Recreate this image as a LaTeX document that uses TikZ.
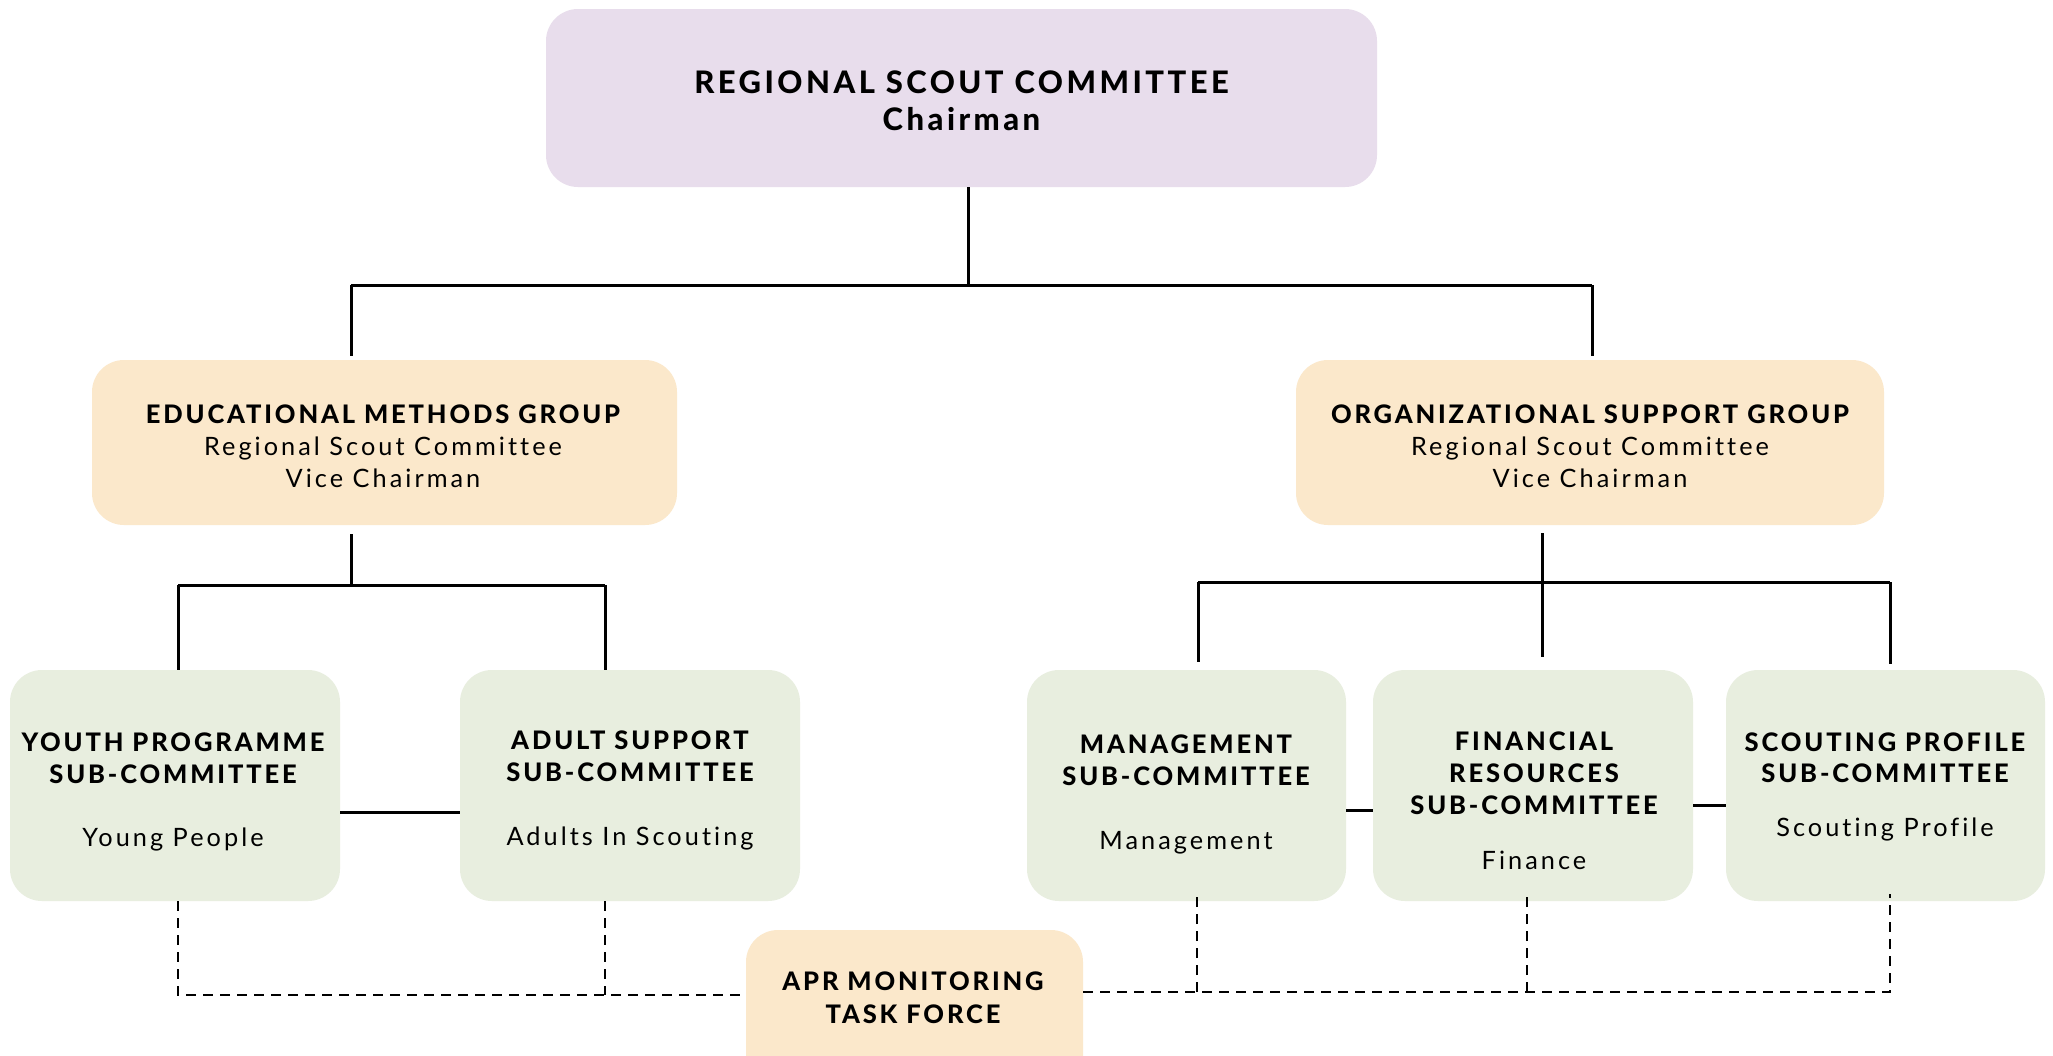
\documentclass[tikz,border=0pt]{standalone}
\usepackage{fontspec}
\setmainfont{Lato}
\newfontfamily\headfont[LetterSpace=11.2, Ligatures=NoCommon, BoldFont={Lato Heavy}]{Lato}
\newfontfamily\bodyfont[LetterSpace=12, Ligatures=NoCommon]{Lato}
\definecolor{lilacfill}{RGB}{232,221,236}
\definecolor{peachfill}{RGB}{251,232,203}
\definecolor{sagefill}{RGB}{232,238,223}
\tikzset{
  rbox/.style={draw=none, rectangle, rounded corners=32pt, inner sep=0pt},
  lilacbox/.style={rbox, fill=lilacfill},
  peachbox/.style={rbox, fill=peachfill},
  sagebox/.style={rbox, fill=sagefill},
  titletext/.style={anchor=base, inner sep=0pt, font=\headfont\bfseries\fontsize{31}{36}\selectfont},
  headtext/.style={anchor=base, inner sep=0pt, font=\headfont\bfseries\fontsize{25.5}{30}\selectfont},
  bodytext/.style={anchor=base, inner sep=0pt, font=\bodyfont\fontsize{25.3}{30}\selectfont},
  link/.style={line width=3pt},
  dlink/.style={line width=2.6pt, dash pattern=on 10pt off 7pt},
}
\begin{document}
\begin{tikzpicture}[x=1pt, y=-1pt]
\useasboundingbox (0,0) rectangle (2053,1055);
\clip (0,0) rectangle (2053,1055);
\fill[white] (0,0) rectangle (2053,1055);

% boxes
\node[lilacbox, minimum width=831pt, minimum height=178pt] (top) at (961.5,98) {};
\node[peachbox, minimum width=585pt, minimum height=165pt] (emg) at (384.5,442.5) {};
\node[peachbox, minimum width=588pt, minimum height=165pt] (osg) at (1590,442.5) {};
\node[sagebox, minimum width=330pt, minimum height=231pt] (youth) at (175,785.5) {};
\node[sagebox, minimum width=340pt, minimum height=231pt] (adult) at (630,785.5) {};
\node[sagebox, minimum width=319pt, minimum height=231pt] (mgmt) at (1186.5,785.5) {};
\node[sagebox, minimum width=320pt, minimum height=231pt] (fin) at (1533,785.5) {};
\node[sagebox, minimum width=319pt, minimum height=231pt] (scout) at (1885.5,785.5) {};
\node[peachbox, minimum width=337pt, minimum height=160pt] (apr) at (914.5,1010) {};

% chairman to the two groups
\coordinate (busTop) at (968,285);
\coordinate (busTopL) at (351,285);
\coordinate (busTopR) at (1592,285);
\draw[link] (top.south -| busTop) -- (busTop);
\draw[link] (busTopL) -- (busTopR);
\draw[link] (busTopL) -- ([yshift=4pt]busTopL |- emg.north);
\draw[link] (busTopR) -- ([yshift=4pt]busTopR |- osg.north);

% educational methods group to its sub-committees
\coordinate (emgDrop) at (351,534);
\coordinate (busL) at (178,585);
\coordinate (busR) at (605,585);
\draw[link] (emgDrop) -- (emgDrop |- busL);
\draw[link] (busL) -- (busR);
\draw[link] (busL) -- (busL |- youth.north);
\draw[link] (busR) -- (busR |- adult.north);
\draw[link] (youth.east |- 0,812) -- (adult.west |- 0,812);

% organizational support group to its sub-committees
\coordinate (osgDrop) at (1542,533);
\coordinate (busML) at (1198,582);
\coordinate (busMR) at (1890,582);
\draw[link] (osgDrop) -- ([yshift=13pt]osgDrop |- fin.north);
\draw[link] (busML) -- (busMR);
\draw[link] (busML) -- ([yshift=8pt]busML |- mgmt.north);
\draw[link] (busMR) -- ([yshift=6pt]busMR |- scout.north);
\draw[link] (mgmt.east |- 0,810) -- (fin.west |- 0,810);
\draw[link] (fin.east |- 0,805) -- (scout.west |- 0,805);

% monitoring links
\coordinate (dYouth) at (178,995);
\coordinate (dAdult) at (605,995);
\draw[dlink] (youth.south -| dYouth) -- (dYouth) -- (apr.west |- dYouth);
\draw[dlink] (adult.south -| dAdult) -- (dAdult);
\coordinate (dMgmt) at (1197,992);
\coordinate (dFin) at (1527,992);
\coordinate (dScout) at (1890,992);
\draw[dlink] (apr.east |- dScout) -- (dScout) -- ([yshift=7pt]dScout |- scout.south);
\draw[dlink] (dMgmt) -- ([yshift=7pt]dMgmt |- mgmt.south);
\draw[dlink] (dFin) -- ([yshift=7pt]dFin |- fin.south);

% texts
\node[titletext] (t1) at (961.5,93) {REGIONAL SCOUT COMMITTEE};
\node[titletext] (t2) at (961.5,130) {Chairman};

\node[headtext] (e1) at (383,423) {EDUCATIONAL METHODS GROUP};
\node[bodytext] (e2) at (383,455) {Regional Scout Committee};
\node[bodytext] (e3) at (383,487) {Vice Chairman};

\node[headtext] (o1) at (1590,423) {ORGANIZATIONAL SUPPORT GROUP};
\node[bodytext] (o2) at (1590,455) {Regional Scout Committee};
\node[bodytext] (o3) at (1590,487) {Vice Chairman};

\node[headtext] (y1) at (173,751) {YOUTH PROGRAMME};
\node[headtext] (y2) at (173,783) {SUB-COMMITTEE};
\node[bodytext] (y3) at (173,846) {Young People};

\node[headtext] (a1) at (630,749) {ADULT SUPPORT};
\node[headtext] (a2) at (630,781) {SUB-COMMITTEE};
\node[bodytext] (a3) at (630,845) {Adults In Scouting};

\node[headtext] (m1) at (1186,753) {MANAGEMENT};
\node[headtext] (m2) at (1186,785) {SUB-COMMITTEE};
\node[bodytext] (m3) at (1186,849) {Management};

\node[headtext] (f1) at (1534,750) {FINANCIAL};
\node[headtext] (f2) at (1534,782) {RESOURCES};
\node[headtext] (f3) at (1534,814) {SUB-COMMITTEE};
\node[bodytext] (f4) at (1534,869) {Finance};

\node[headtext] (s1) at (1885,751) {SCOUTING PROFILE};
\node[headtext] (s2) at (1885,782) {SUB-COMMITTEE};
\node[bodytext] (s3) at (1885,836) {Scouting Profile};

\node[headtext] (p1) at (913,990) {APR MONITORING};
\node[headtext] (p2) at (913,1023) {TASK FORCE};
\end{tikzpicture}
\end{document}
